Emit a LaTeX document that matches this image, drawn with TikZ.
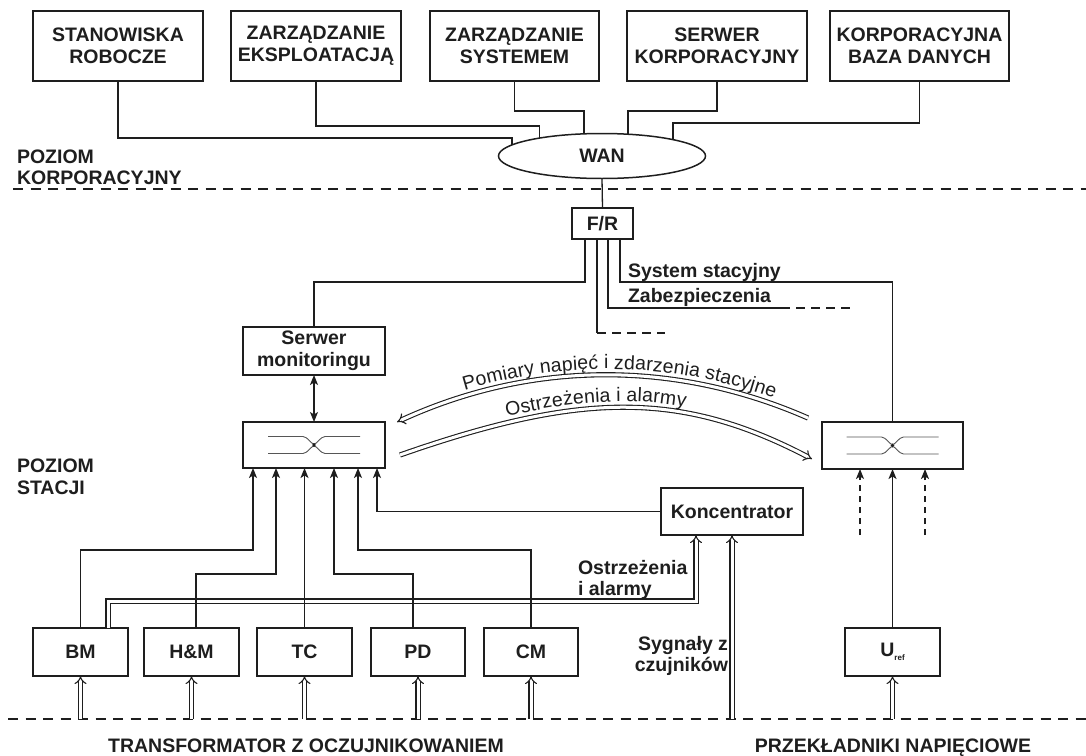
\documentclass[tikz,border=0pt]{standalone}
\usepackage{fontspec}
\setmainfont{Liberation Sans}
\usetikzlibrary{arrows.meta,calc,shapes.geometric,decorations.text}
\definecolor{ink}{HTML}{1E1E1E}
\newcommand\lblsize{\fontsize{19.5}{21.5}\selectfont}
\newcommand\curvefont{\fontsize{19.5}{19.5}\selectfont\color{ink}}
\begin{document}
\begin{tikzpicture}[x=1pt,y=-1pt,
  every node/.style={inner sep=0pt, outer sep=0pt, text=ink},
  blk/.style={draw=ink, line width=1.5pt, fill=white, font=\bfseries\lblsize, align=center},
  lbl/.style={font=\bfseries\lblsize, align=left},
  conn/.style={draw=ink, line width=1.3pt},
  arr/.style={conn, -{Stealth[length=10pt,width=8pt,inset=2.5pt]}},
  dbl/.style={draw=ink, line width=1.1pt, double=white, double distance=3pt, -{Implies[scale=1.9]}},
  divider/.style={draw=ink, line width=1.3pt, dash pattern=on 10pt off 7.5pt},
  swsym/.pic={
    \draw[draw=ink!75, line width=0.9pt, rounded corners=2pt] (-46,-8.5) -- (-9,-8.5) -- (0,0) -- (9,-8.5) -- (46,-8.5);
    \draw[draw=ink!75, line width=0.9pt, rounded corners=2pt] (-46,8.5) -- (-9,8.5) -- (0,0) -- (9,8.5) -- (46,8.5);
    \fill[ink] (0,0) circle (1.8pt);
  }]
\path[use as bounding box, fill=white] (0,0) rectangle (1086,755);

% ---------- corporate level ----------
\node[blk, minimum width=170pt, minimum height=70pt] (b1) at (118,46) {STANOWISKA\\ROBOCZE};
\node[blk, minimum width=170pt, minimum height=70pt] (b2) at (316,46) {ZARZĄDZANIE\\EKSPLOATACJĄ};
\node[blk, minimum width=169pt, minimum height=70pt] (b3) at (514.5,46) {ZARZĄDZANIE\\SYSTEMEM};
\node[blk, minimum width=180pt, minimum height=70pt] (b4) at (717,46) {SERWER\\KORPORACYJNY};
\node[blk, minimum width=179pt, minimum height=70pt] (b5) at (919.5,46) {KORPORACYJNA\\BAZA DANYCH};
\node[blk, ellipse, minimum width=207pt, minimum height=45pt] (wan) at (602,156) {WAN};

\draw[conn] (b1.south) -- ++(0,57) -| (wan.173);
\draw[conn] (b2.south) -- ++(0,45) -| (wan.164);
\draw[conn] (b3.south) -- ++(0,30) -| (wan.129);
\draw[conn] (b4.south) -- ++(0,30) -| (wan.40);
\draw[conn] (b5.south) -- ++(0,42) -| (wan.13);

\node[lbl, anchor=west] (lvl1) at (17,167.5) {POZIOM\\KORPORACYJNY};
\coordinate (dA) at (13,189);
\coordinate (dB) at (1086,189);
\draw[divider] (dA) -- (dB);

% ---------- station level ----------
\node[blk, minimum width=61pt, minimum height=31pt] (fr) at (602.5,223.5) {F/R};
\draw[conn] (wan.south) -- (fr.north);

\node[blk, minimum width=142pt, minimum height=48pt] (srv) at (314,351) {Serwer\\monitoringu};
\node[draw=ink, line width=1.5pt, fill=white, minimum width=142pt, minimum height=46pt] (swL) at (314,445) {};
\pic at (swL.center) {swsym};
\node[draw=ink, line width=1.5pt, fill=white, minimum width=141pt, minimum height=47pt] (swR) at (892.5,445.5) {};
\pic at (swR.center) {swsym};

\draw[conn] ($(fr.south)+(-17.5,0)$) -- ++(0,43) -| (srv.north);
\draw[conn] ($(fr.south)+(-5.5,0)$) -- ++(0,94) coordinate (c1);
\draw[conn, dash pattern=on 9pt off 6pt] (c1) -- ++(68,0) coordinate (c1e);
\draw[conn] ($(fr.south)+(5.5,0)$) -- ++(0,69) -- ++(182,0) coordinate (c2);
\draw[conn, dash pattern=on 9pt off 6pt, dash phase=-6pt] (c2) -- ++(62,0) coordinate (c2e);
\draw[conn] ($(fr.south)+(17.5,0)$) -- ++(0,43) -| (swR.north);

\node[lbl, anchor=base west] (sysst) at (628,277) {System stacyjny};
\node[lbl, anchor=base west] (zab) at (628,302.5) {Zabezpieczenia};

\draw[conn, {Stealth[length=10pt,width=8pt,inset=2.5pt]}-{Stealth[length=10pt,width=8pt,inset=2.5pt]}] (srv.south) -- (swL.north);

% curved double arrows
\coordinate (u1) at ($(swR.north west)+(-14,-4)$);
\coordinate (u2) at ($(swL.north east)+(12,0)$);
\coordinate (l1) at ($(swL.east)+(15,10)$);
\coordinate (l2) at ($(swR.west)+(-10,13.5)$);
\draw[dbl] (u1) .. controls (676,360) and (532,360) .. (u2);
\draw[dbl] (l1) .. controls (580,392) and (680,390) .. (l2);
\path[decorate, decoration={text along path, raise=6pt, text align={left indent=74pt},
  text={|\curvefont|Pomiary napięć i zdarzenia stacyjne}}]
  (u2) .. controls (532,360) and (676,360) .. (u1);
\path[decorate, decoration={text along path, raise=6pt, text align={left indent=113pt},
  text={|\curvefont|Ostrzeżenia i alarmy}}]
  (l1) .. controls (580,392) and (680,390) .. (l2);

\node[lbl, anchor=west] (lvl2) at (17,477) {POZIOM\\STACJI};

% ---------- device boxes ----------
\node[blk, minimum width=142pt, minimum height=47pt] (konc) at (732,511.5) {Koncentrator};
\node[blk, minimum width=95pt, minimum height=48pt] (bm) at (80.5,652) {BM};
\node[blk, minimum width=95pt, minimum height=48pt] (hm) at (191.5,652) {H\&M};
\node[blk, minimum width=95pt, minimum height=48pt] (tc) at (304.5,652) {TC};
\node[blk, minimum width=94pt, minimum height=48pt] (pd) at (418,652) {PD};
\node[blk, minimum width=94pt, minimum height=48pt] (cm) at (531,652) {CM};
\node[blk, minimum width=95pt, minimum height=48pt] (uref) at (892.5,652) {U\raisebox{-4pt}{\fontsize{8}{8}\selectfont ref}};

\coordinate (dC) at (8,719);
\coordinate (dD) at (1086,719);
\draw[divider] (dC) -- (dD);

% double line warnings to concentrator (drawn first so single lines cross over it)
\draw[dbl] ($(bm.north)+(27.5,0)$) -- ++(0,-27) -| ($(konc.south)+(-36,0)$);
\draw[dbl] (konc.south |- dC) -- (konc.south);

% single arrows into the left switch
\draw[arr] (bm.north) -- ++(0,-78) -| ($(swL.south)+(-61,0)$);
\draw[arr] ($(hm.north)+(4.5,0)$) -- ++(0,-54) -| ($(swL.south)+(-38,0)$);
\draw[arr] (tc.north) -- (tc.north |- swL.south);
\draw[arr] ($(pd.north)+(-5,0)$) -- ++(0,-54) -| ($(swL.south)+(20,0)$);
\draw[arr] (cm.north) -- ++(0,-78) -| ($(swL.south)+(44,0)$);
\draw[arr] (konc.west) -| ($(swL.south)+(63,0)$);

% right switch inputs
\draw[arr] (uref.north) -- (swR.south);
\draw[arr, dash pattern=on 6pt off 5pt] ($(swR.south)+(-32.5,66)$) coordinate (q1) -- ($(swR.south)+(-32.5,0)$);
\draw[arr, dash pattern=on 6pt off 5pt] ($(swR.south)+(32.5,66)$) coordinate (q2) -- ($(swR.south)+(32.5,0)$);

% sensor inputs from transformer / VTs
\draw[dbl] (bm.south |- dC) -- (bm.south);
\draw[dbl] (hm.south |- dC) -- (hm.south);
\draw[dbl] (tc.south |- dC) -- (tc.south);
\draw[dbl] (pd.south |- dC) -- (pd.south);
\draw[dbl] (cm.south |- dC) -- (cm.south);
\draw[dbl] (uref.south |- dC) -- (uref.south);

\node[lbl, anchor=west] (ostr) at (578,580) {Ostrzeżenia\\i alarmy};
\node[lbl, anchor=east, align=right] (syg) at (728,656) {Sygnały z\\czujników};

\node[font=\bfseries\lblsize, anchor=base] (tr) at (306,752.5) {TRANSFORMATOR Z OCZUJNIKOWANIEM};
\node[font=\bfseries\lblsize, anchor=base] (pn) at (893,752.5) {PRZEKŁADNIKI NAPIĘCIOWE};
\end{tikzpicture}
\end{document}
